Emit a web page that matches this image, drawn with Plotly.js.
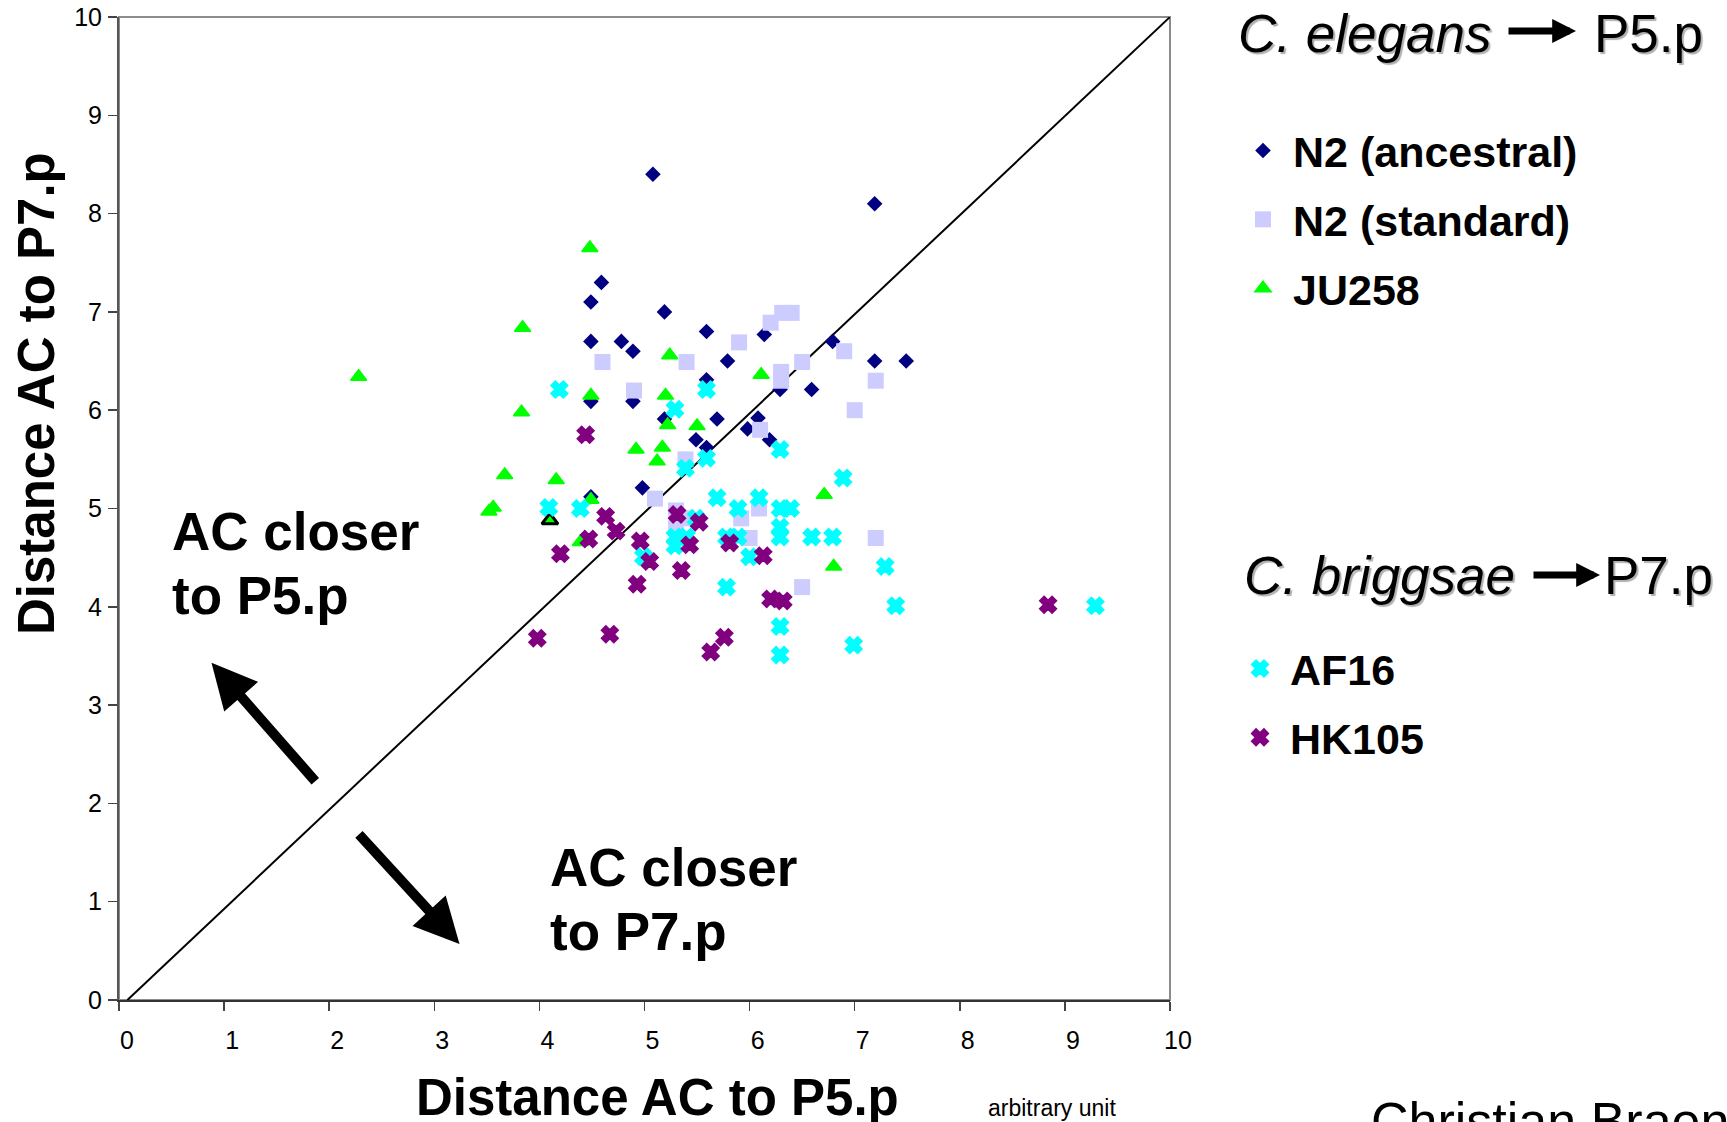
<!DOCTYPE html>
<html><head><meta charset="utf-8">
<script src="https://cdn.plot.ly/plotly-3.0.1.min.js"></script>
<style>html,body{margin:0;padding:0;background:#fff;overflow:hidden}#chart{width:1727px;height:1122px}</style>
</head><body><div id="chart"></div>
<script>
// ---- data ----
const seriesNames = ['N2 (ancestral)', 'N2 (standard)', 'JU258', 'AF16', 'HK105'];

const n2AncX = [5.08,7.19,4.59,4.49,5.19,5.59,6.14,4.49,4.78,4.89,6.79,5.79,7.19,7.49,5.59,6.29,6.59,4.49,4.89,5.19,5.69,6.08,5.98,5.49,5.59,6.19,4.98,4.49];
const n2AncY = [8.40,8.10,7.30,7.10,7.00,6.80,6.77,6.70,6.70,6.60,6.70,6.50,6.50,6.50,6.31,6.21,6.21,6.09,6.09,5.91,5.91,5.92,5.81,5.70,5.62,5.70,5.21,5.12];

const n2StdX = [4.60,5.40,5.90,4.90,6.31,6.40,6.20,6.90,6.50,6.30,6.30,7.20,7.00,6.10,5.39,5.10,5.30,5.30,5.40,5.92,6.09,6.00,7.20,6.50];
const n2StdY = [6.49,6.49,6.69,6.20,6.99,6.99,6.89,6.60,6.49,6.39,6.30,6.30,6.00,5.80,5.50,5.10,4.98,4.80,4.90,4.90,5.00,4.70,4.70,4.20];

const ju258X = [2.28,3.84,3.83,3.67,3.56,3.52,4.48,4.49,4.16,4.10,4.49,4.39,4.92,5.12,5.17,5.20,5.24,5.22,5.50,6.11,6.71,6.80];
const ju258Y = [6.34,6.84,5.98,5.34,5.01,4.97,7.65,6.15,5.29,4.88,5.09,4.66,5.60,5.48,5.62,6.15,6.56,5.85,5.84,6.36,5.14,4.41];
const ju258OutlinedIndex = 9;

const af16X = [4.19,5.59,5.29,5.59,5.39,4.09,4.39,4.99,5.49,5.29,5.29,5.40,5.78,5.69,5.89,5.78,5.89,6.09,6.00,6.29,6.89,6.29,6.39,6.29,6.29,6.59,6.79,7.29,7.39,9.29,6.29,6.99,6.29];
const af16Y = [6.21,6.21,6.01,5.51,5.41,5.01,5.00,4.51,4.90,4.71,4.62,4.71,4.20,5.11,5.00,4.71,4.71,5.11,4.51,5.60,5.31,5.00,5.00,4.81,4.71,4.71,4.71,4.41,4.01,4.01,3.80,3.61,3.51];

const hk105X = [4.44,4.63,4.73,4.47,4.20,4.96,5.05,5.35,4.93,3.98,4.67,5.76,5.63,5.31,5.52,5.43,5.81,6.13,6.20,6.32,8.84];
const hk105Y = [5.75,4.92,4.77,4.69,4.54,4.67,4.46,4.37,4.23,3.68,3.72,3.69,3.54,4.94,4.86,4.63,4.65,4.52,4.08,4.06,4.02];

const diagonalX = [0.08, 10];
const diagonalY = [0, 10];

const tickVals = [0,1,2,3,4,5,6,7,8,9,10];
const tickText = ['0','1','2','3','4','5','6','7','8','9','10'];

// ---- layout helpers ----
const FONT = 'Liberation Sans, Arial, sans-serif';
const L = 119, R = 1170, T = 17, B = 1000;
const px = X => (X - L) / (R - L);
const py = Y => (B - Y) / (B - T);

function mk(name, x, y, symbol, color, size, lineW, legend) {
  return {
    type: 'scatter', mode: 'markers', name: name, x: x, y: y,
    legend: legend, legendgroup: name,
    marker: {symbol: symbol, color: color, size: size, line: {width: lineW, color: color}},
    hoverinfo: 'x+y'
  };
}

const traces = [
  mk(seriesNames[0], n2AncX, n2AncY, 'diamond', '#000080', 12, 0, 'legend'),
  mk(seriesNames[1], n2StdX, n2StdY, 'square', '#CCCCFF', 16, 0, 'legend'),
  mk(seriesNames[2], ju258X, ju258Y, 'triangle-up', '#00FF00', 14, 1.5, 'legend'),
  mk(seriesNames[3], af16X, af16Y, 'x', '#00FFFF', 14, 2.2, 'legend2'),
  mk(seriesNames[4], hk105X, hk105Y, 'x', '#800080', 14, 2.2, 'legend2')
];
// one JU258 point is drawn with a black outline in the original
traces[2].marker.line = {
  width: ju258X.map((_, i) => i === ju258OutlinedIndex ? 3 : 1.5),
  color: ju258X.map((_, i) => i === ju258OutlinedIndex ? '#000' : '#00FF00')
};

const bigTxt = {family: FONT, size: 53, color: '#000', weight: 'bold'};
const axTxt = {family: FONT, size: 51, color: '#000', weight: 'bold'};
const headFont = {family: FONT, size: 53, color: '#000', shadow: '2px 2px 1px #b0b0b0'};

function ann(text, X, Y, font, xa, ya, extra) {
  return Object.assign({xref: 'paper', yref: 'paper', x: px(X), y: py(Y), text: text,
    showarrow: false, xanchor: xa || 'left', yanchor: ya || 'middle', font: font}, extra || {});
}
function hArrow(Xtail, Xhead, Y) {
  return {xref: 'paper', yref: 'paper', x: px(Xhead), y: py(Y), ax: Xtail - Xhead, ay: 0,
    text: '', showarrow: true, arrowhead: 2, arrowwidth: 7, arrowsize: 0.68, arrowcolor: '#000'};
}

const annotations = [
  ann('Distance AC to P5.p', 657, 1097, axTxt, 'center'),
  ann('Distance AC to P7.p', 36, 394, axTxt, 'center', 'middle', {textangle: -90}),
  ann('arbitrary unit', 986, 1108, {family: FONT, size: 23, color: '#000'}),
  ann('AC closer', 170, 531, bigTxt),
  ann('to P5.p', 170, 595, bigTxt),
  ann('AC closer', 548, 867, bigTxt),
  ann('to P7.p', 548, 931, bigTxt),
  ann('<i>C. elegans</i>', 1236, 33, headFont),
  ann('P5.p', 1592, 33, headFont),
  hArrow(1507, 1576, 31),
  ann('<i>C. briggsae</i>', 1242, 575, headFont),
  ann('P7.p', 1602, 575, headFont),
  hArrow(1532, 1600, 575),
  ann('Christian Braendle', 1369, 1090, {family: FONT, size: 52, color: '#000'}, 'left', 'top'),
  // thick arrows inside the plot
  {xref: 'x', yref: 'y', axref: 'x', ayref: 'y', x: 0.88, y: 3.43, ax: 1.88, ay: 2.21,
   text: '', showarrow: true, arrowhead: 2, arrowwidth: 10, arrowsize: 0.9, arrowcolor: '#000'},
  {xref: 'x', yref: 'y', axref: 'x', ayref: 'y', x: 3.24, y: 0.57, ax: 2.27, ay: 1.70,
   text: '', showarrow: true, arrowhead: 2, arrowwidth: 10, arrowsize: 0.9, arrowcolor: '#000'}
];

const shapes = [
  {type: 'rect', xref: 'paper', yref: 'paper', x0: 0, y0: 0, x1: 1, y1: 1,
   line: {color: '#8c8c8c', width: 2}, layer: 'below'},
  {type: 'line', xref: 'x', yref: 'y', x0: diagonalX[0], y0: diagonalY[0], x1: diagonalX[1], y1: diagonalY[1],
   line: {color: '#000', width: 2}, layer: 'below'}
];

const axisCommon = {
  range: [0, 10], tickmode: 'array', tickvals: tickVals, ticktext: tickText,
  showgrid: false, zeroline: false, showline: true, linewidth: 2,
  ticks: 'outside', ticklen: 9, tickwidth: 1.5, tickcolor: '#444',
  tickfont: {family: FONT, size: 25, color: '#000'}, fixedrange: true
};

const legendCommon = {xanchor: 'left', yanchor: 'top', bgcolor: 'rgba(0,0,0,0)',
  font: {family: FONT, size: 43, color: '#000', weight: 'bold'},
  itemwidth: 50, itemclick: false, itemdoubleclick: false};

const layout = {
  width: 1727, height: 1122,
  margin: {l: L, r: 1727 - R, t: T, b: 1122 - B, pad: 0},
  paper_bgcolor: '#fff', plot_bgcolor: '#fff',
  showlegend: true,
  xaxis: Object.assign({}, axisCommon, {linecolor: '#333', ticklabelstandoff: 8, ticklabelshift: 8}),
  yaxis: Object.assign({}, axisCommon, {linecolor: '#555', ticklabelstandoff: 1}),
  legend: Object.assign({x: px(1233), y: py(116), tracegroupgap: 10}, legendCommon),
  legend2: Object.assign({x: px(1230), y: py(634), tracegroupgap: 10}, legendCommon),
  annotations: annotations,
  shapes: shapes
};

Plotly.newPlot('chart', traces, layout, {displayModeBar: false, staticPlot: true});
</script>
</body></html>
